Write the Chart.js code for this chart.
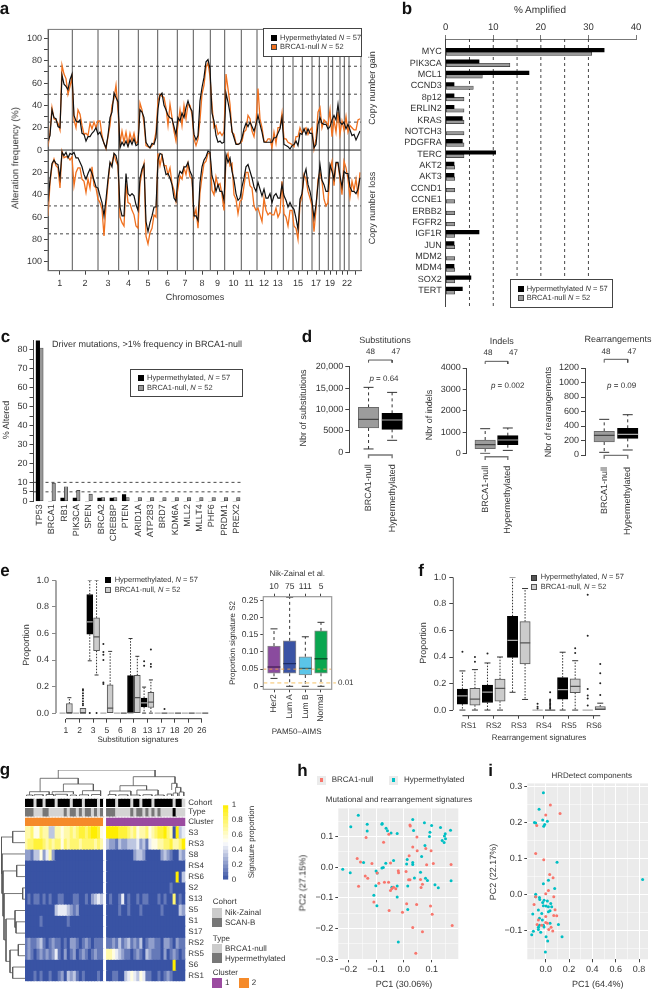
<!DOCTYPE html>
<html>
<head>
<meta charset="utf-8">
<title>BRCA1 hypermethylated vs null</title>
<script src="https://cdn.jsdelivr.net/npm/chart.js@4"></script>
<style>
html, body { margin: 0; padding: 0; background: #fff; }
#page { position: relative; width: 652px; height: 989px; overflow: hidden; font-family: "Liberation Sans", Arial, sans-serif; color: #333; text-rendering: geometricPrecision; }
canvas { position: absolute; }
.t { position: absolute; white-space: nowrap; line-height: 1; filter: grayscale(1); }
.lg { position: absolute; background: #fff; border: 1px solid #444; box-sizing: border-box; }
.sw { position: absolute; box-sizing: border-box; }
</style>
</head>
<body>
<div id="page"></div>
<script>
// ---- panel a: copy number, one value per genome bin
const binWidth = 2;
const chromEnds = [24.3, 50, 70.7, 90.3, 109.7, 129.3, 145.3, 162.3, 176.7, 193.3, 209, 223.7, 235.3, 245, 254.3, 264, 271.3, 280.3, 284.7, 292, 296.3, 301];
const chromCenters = [11.7, 37, 60, 80.5, 100, 119.5, 137, 154, 169.5, 185.5, 201, 216, 229.7, 240, 250, 259, 268, 276, 282, 288.5, 294, 299, 307];
const chromLabels = ['1', '2', '3', '4', '5', '6', '7', '8', '9', '10', '11', '12', '13', '', '15', '', '17', '', '19', '', '', '22', ''];
const gainHyper = [8,13,36,29,28,21,20,67,59,57,54,63,68, 31,26,25,27,15,14,8,12,12,15,17,20,14, 16,11,6,2,13,29,34,51,47,43, 2,7,4,8,3,9,5,10,4,5,
  36,34,29,7,4,2,6,5,11, 37,49,51,40,36,31,29,28,21,14, 29,26,33,29,38,44,38,35, 14,9,13,44,56,65,79,81,73, 33,26,13,7,8,6,7, 51,43,33,17,11,5,5,6,
  11,19,24,21,25,21,17,23, 31,23,16,7,7,7,7, 7,11,11,15,19,29, 5,4,3,1,4, 5,8,4,15,14, 19,14,19,15,15, 2,5,23, 29,24,23,23,19, 21,27, 31,27,41,25, 23,25, 19,23, 18,13,14,9,13,17];
const gainNull = [3,16,38,28,27,24,18,76,68,64,50,57,65, 27,20,36,32,22,14,15,13,24,19,25,20,26, 26,13,6,1,12,22,40,46,58,36, 6,17,7,16,5,15,8,15,6,8,
  42,36,24,4,3,2,4,7,16, 44,50,48,47,38,22,41,29,17,8, 23,36,22,40,28,41,40,32, 10,4,10,27,50,58,74,78,66, 40,20,22,14,16,13,16, 68,55,41,16,14,6,5,6,
  8,16,18,31,28,17,12,24, 55,28,20,8,7,10,10, 2,16,6,20,20,33, 10,10,7,6,5, 3,12,12,20,15, 18,20,14,18,20, 1,10,34, 38,20,27,25,22, 36,12, 27,16,34,14, 26,18, 30,16, 22,20,18,18,27,28];
const lossHyper = [46,27,12,9,12,13,25,2,5,2,7,3,4, 2,7,7,11,15,22,26,21,17,21,27,33,34, 41,47,59,44,26,11,15,3,5,13, 51,59,59,21,39,41,39,41,49,54,
  25,17,13,64,73,65,59,51,51, 9,3,4,14,22,21,25,31,43,46, 25,19,21,15,15,11,19,23, 59,59,63,29,15,9,6,1,2, 23,29,37,31,37,37,45, 4,11,7,19,27,39,45,43,
  33,25,15,13,19,25,33,37, 29,35,41,35,43,43,39, 47,41,39,43,43,31, 41,45,51,47,51, 53,61,71,44,39, 23,17,31,37,46, 61,49,31, 13,27,31,37,37, 13,19, 26,11,11,23, 33,19, 21,21, 33,37,37,39,35,25];
const lossNull = [59,30,14,8,14,16,34,1,7,6,6,9,6, 32,20,16,16,26,28,38,26,34,15,32,34,44, 47,53,77,50,30,12,12,4,10,14, 60,65,68,30,47,48,54,58,68,70,
  30,20,12,77,84,74,70,58,60, 3,14,5,14,14,22,16,30,36,46, 34,23,26,16,22,12,24,26, 60,53,70,38,24,12,10,3,3, 36,40,24,32,30,40,54, 8,3,14,12,40,44,57,46,
  44,32,20,20,32,34,50,54, 52,58,64,43,54,58,56, 58,58,52,60,56,28, 57,60,68,54,54, 68,70,80,48,42, 22,26,37,43,50, 73,53,26, 20,28,44,50,47, 18,10, 32,12,12,26, 40,10, 16,26, 42,28,36,26,40,20];

// ---- panel b
const ampGenes = ['MYC', 'PIK3CA', 'MCL1', 'CCND3', '8p12', 'ERLIN2', 'KRAS', 'NOTCH3', 'PDGFRA', 'TERC', 'AKT2', 'AKT3', 'CCND1', 'CCNE1', 'ERBB2', 'FGFR2', 'IGF1R', 'JUN', 'MDM2', 'MDM4', 'SOX2', 'TERT'];
const ampHyper = [33.3, 7, 17.5, 1.75, 1.75, 1.75, 3.5, 0, 3.5, 10.5, 1.75, 1.75, 0, 0, 0, 0, 7, 1.75, 0, 1.75, 5.3, 3.5];
const ampNull = [30.7, 13.5, 7.7, 5.8, 3.85, 3.85, 3.85, 3.85, 3.85, 3.85, 1.9, 1.9, 1.9, 1.9, 1.9, 1.9, 1.9, 1.9, 1.9, 1.9, 1.9, 1.9];

// ---- panel c
const driverGenes = ['TP53', 'BRCA1', 'RB1', 'PIK3CA', 'SPEN', 'BRCA2', 'CREBBP', 'PTEN', 'ARID1A', 'ATP2B3', 'BRD7', 'KDM6A', 'MLL2', 'MLLT4', 'PHF6', 'PRDM1', 'PREX2'];
const driverHyper = [85, 0, 1.75, 1.75, 0, 1.75, 1.75, 3.5, 0, 0, 0, 0, 0, 0, 0, 0, 0];
const driverNull = [81, 9.6, 7.7, 5.8, 3.85, 1.9, 1.9, 1.9, 1.9, 1.9, 1.9, 1.9, 1.9, 1.9, 1.9, 1.9, 1.9];

// ---- box stats are [low whisker, q1, median, q3, high whisker]
const groupNames = ['BRCA1-null', 'Hypermethylated'];
const subsBoxes = [[780, 5680, 7700, 10500, 15175], [2800, 5370, 7550, 9100, 14000]];
const indelBoxes = [[15, 233, 420, 638, 1167], [155, 420, 640, 840, 1200]];
const rearrBoxes = [[37, 179, 271, 326, 492], [69, 230, 285, 368, 556]];

// ---- panel e
const subSignatures = ['1', '2', '3', '5', '6', '8', '13', '17', '18', '20', '26'];
const subHyper = [[0,0,0,0,0], [0,0,0,0,0], [.394,.594,.688,.894,1], [0,0,0,0,0], [0,0,0,0,0], [0,0,0,.282,.562], [0,.047,.077,.114,.196], [0,0,0,0,0], [0,0,0,0,0], [0,0,0,0,0], [0,0,0,0,0]];
const subNull = [[0,0,0,.072,.116], [0,0,0,.035,.035], [.287,.47,.574,.718,1], [0,0,.037,.213,.465], [0,0,0,0,0], [0,0,.116,.285,.428], [0,.042,.082,.156,.25], [0,0,0,0,0], [0,0,0,0,0], [0,0,0,0,0], [0,0,0,0,0]];
const subHyperOut = [[], [], [0], [.52,.46,.44,.40,.23,.22], [], [], [.39,.356], [], [], [], []];
const subNullOut = [[], [.18,.17,.15,.13,.11,.09,.07,.06], [0], [], [], [], [.48,.37,.35], [.03], [], [], []];
const pamNames = ['Her2', 'Lum A', 'Lum B', 'Normal'];
const pamCounts = ['10', '75', '111', '5'];
const pamBoxes = [[.023,.038,.056,.117,.167], [0,.038,.066,.132,.259], [0,.033,.052,.086,.144], [0,.038,.08,.161,.186]];
const pamColors = ['#8a4b9e', '#3a53a4', '#5bc5e8', '#0aa650'];
const pamDarkColors = ['#4f2560', '#1c2c66', '#1f5f78', '#05562a'];

// ---- panel f
const rearrSignatures = ['RS1', 'RS2', 'RS3', 'RS4', 'RS5', 'RS6'];
const rsHyper = [[0,.045,.107,.159,.295], [0,.057,.136,.188,.355], [.134,.397,.526,.707,1], [0,0,0,0,0], [0,.082,.154,.245,.436], [0,0,0,0,0]];
const rsNull = [[0,.037,.082,.164,.305], [0,.067,.163,.233,.40], [.08,.347,.506,.667,.916], [0,0,0,0,0], [0,.131,.178,.235,.372], [0,0,.007,.027,.052]];
const rsHyperOut = [[.44], [.426], [], [.047,.025,.012], [], [.87,.56,.158,.11,.087,.035]];
const rsNullOut = [[.40,.365], [], [], [.134,.08,.07,.06,.05,.04,.03,.02,.01], [.466,.43], [.347,.277,.203,.114]];

// ---- panel g, one digit per column (0 = 0.0, 9 = 1.0), blank column between clusters
const heatRowNames = ['S3', 'RS3', 'S8', 'RS4', 'RS6', 'S2', 'S13', 'S5', 'S1', 'S17', 'RS2', 'RS5', 'S6', 'RS1'];
const heatRows = [
  '66755766336656676788789985 99998887675667567889760934',
  '67788876767757677767777676 32213223334231455667786679',
  '22133524620000000000000000 00000000023320000023210032',
  '00000000000000000000000000 00000000000000000000000000',
  '00000000000000000000000000 00000000000000000000000903',
  '00000000000000000000000000 00000000000000000000010000',
  '01011010100110001100102343 01001401001011000101007010',
  '00000000003444321200000000 00001001000100000010000032',
  '00000100000000100000000000 00000000000000000000000000',
  '00000000000000000000000000 00000000000000000000000000',
  '12112310121101022101210111 11213123121301221102210211',
  '12101212124102012012101211 66543211012103211102012101',
  '00000000000000000000000000 00000000000000000000009000',
  '00010100100120323101000010 00110034543541100101210000'
];
const cohortRow = '11101101110111101110111101 11101111011011101111110110';
const typeRow = '11100011000001011010110101 11100000101101010100002000';
const clusterRow = '22222222222222222222222222 11111111111111111111111111';
const colorBarSteps = [0, .05, .1, .15, .2, .25, .3, .35, .4, .45, .5, .55, .6, .65, .7, .75, .8, .85, .9, .95];
// dendrograms: [posA, heightA, posB, heightB, merge height]
const topTree = [[5,4.3,17.6,12,17.7], [12.7,4.3,22.6,5.3,12], [31.4,5,40.2,6,10.3], [35.8,10.3,49.6,12.7,19.3], [48.5,6,50.2,8.6,12.7], [11,17.7,43,19.3,26],
  [1.5,1,8,1.5,4.3], [9,1,16,2,4.3], [19,1.2,25,1.5,5.3], [28,1.5,35,1,5], [37,1,44,1,6], [49.8,3,51.5,4,8.6],
  [0.5,0,2.5,0,1], [3,0,6,0,1.3], [7,0,9.5,0,1.5], [10,0,14,0,1.7], [15,0,17,0,1], [18,0,21,0,1.2], [22,0,25,0,1.5], [27.5,0,30,0,1.5], [31,0,34,0,1.2], [35,0,38,0,1], [39,0,42,0,1.3], [43,0,46,0,1], [47,0,48.5,0,2], [49,0,50.5,0,3], [51,0,52.5,0,4]];
const leftTree = [[0,0,1,0,12.3], [3,0,4,0,8.3], [5,0,6,0,2.3], [8,0,9,0,9], [7,0,8.5,9,10], [10,0,11,0,6.7], [12,0,13,0,12.3], [10.5,6.7,12.5,12.3,15], [7.75,10,11.5,15,19], [5.5,2.3,9.6,19,21], [3.5,8.3,7.5,21,22], [2,0,5.5,22,23], [0.5,12.3,3.75,23,24]];

// ---- panel h, [PC1, PC2]
const pcaNull = [[-.168,.029],[-.156,.017],[-.115,.012],[-.139,-.028],[-.130,-.036],[-.163,-.062],[-.090,-.052],[-.096,-.019],[-.073,.082],[-.054,.108],[-.136,.097],[.022,.138],[.023,.135],[.047,.099],[.032,.066],[.048,.054],[.079,.061],[.098,.054],[.082,.008],[.106,.012],[.170,.009],[.019,.038],[-.048,.014],[-.020,-.011],[-.019,-.018],[.008,-.014],[.017,-.041],[.022,-.041],[.060,-.040],[-.070,-.049],[-.055,-.049],[-.048,-.076],[-.043,-.069],[-.037,-.065],[-.029,-.070],[-.108,-.113],[-.053,-.141],[-.005,-.147],[.010,-.119],[.046,-.121],[.096,-.126],[.102,-.153],[.032,-.196],[.067,-.210],[.174,-.190],[.043,-.280],[.067,-.055],[.062,-.066]];
const pcaHyper = [[-.164,.170],[-.191,.132],[-.132,.140],[-.132,.118],[-.078,.143],[-.079,.140],[-.064,.127],[-.059,.119],[-.046,.112],[-.024,.110],[.032,.156],[.035,.120],[.074,.145],[.100,.136],[.132,.130],[.094,.114],[.092,.100],[.149,.109],[.146,.102],[.138,.087],[.145,.081],[.150,.093],[.168,.121],[.076,.071],[.064,.035],[-.220,-.006],[-.193,-.018],[-.145,.016],[-.065,.013],[-.074,-.001],[-.079,-.002],[-.037,.022],[.012,.025],[.010,.011],[.032,.016],[.032,.009],[-.100,-.012],[-.096,-.019],[-.101,-.060],[-.108,-.091],[-.097,-.125],[-.024,-.061],[-.043,-.065],[-.024,-.097],[.014,-.061],[.038,-.035],[.060,-.016],[.078,-.036],[.085,-.043],[.112,-.057],[.124,-.067],[.170,-.044],[.014,-.138],[-.020,-.244]];

// ---- panel i, [PC1, PC2]
const hrdNull = [[.04,.249],[.123,.225],[0,.221],[-.077,.192],[-.086,.114],[-.017,.097],[.034,.056],[.063,.047],[.023,.011],[0,.002],[-.086,-.006],[-.1,-.028],[.069,-.006],[.08,-.042],[.069,-.058],[.094,-.059],[0,-.061],[-.063,-.071],[-.074,-.083],[-.034,-.085],[0,-.078],[.014,-.08],[.046,-.091],[.06,-.101],[.026,-.097]];
const hrdHyper = [[-.02,.283],[-.057,.237],[-.026,.207],[.014,.204],[-.097,.2],[-.086,.199],[-.009,.195],[-.017,.19],[.097,.09],[.023,.04],[-.02,.03],[.077,.017],[-.086,.001],[-.054,-.008],[-.051,-.014],[-.086,-.006],[-.014,-.016],[-.026,-.022],[.014,-.018],[-.02,-.031],[.003,-.032],[.023,-.034],[.051,-.034],[.043,-.025],[.023,-.048],[-.063,-.043],[-.034,-.053],[-.111,-.054],[-.054,-.066],[-.029,-.071],[.037,-.045],[-.02,-.085],[-.054,-.085],[-.014,-.09],[-.063,-.097],[.109,-.083],[-.106,-.102],[-.12,-.112],[-.043,-.105],[.003,-.117],[.017,-.129],[.14,-.117],[-.003,-.16],[.831,.042],[-.063,-.091],[.037,-.08]];

const RED = '#f8766d', TEAL = '#00bfc4', ORANGE = '#f0701e';
const GAP = { x: null, y: null };
const page = document.getElementById('page');

Chart.defaults.font.family = '"Liberation Sans", Arial, sans-serif';
Chart.defaults.font.size = 9;
Chart.defaults.color = '#333';
Chart.defaults.animation = false;
Chart.defaults.responsive = false;
Chart.defaults.events = [];
Chart.defaults.plugins.legend.display = false;
Chart.defaults.plugins.tooltip.enabled = false;

// plot background and frame, used by a few panels
Chart.register({
  id: 'panel',
  beforeUpdate(chart) {
    chart.ctx.textRendering = 'geometricPrecision';
  },
  beforeDraw(chart, args, opts) {
    if (!opts.bg) return;
    const a = chart.chartArea;
    chart.ctx.fillStyle = opts.bg;
    chart.ctx.fillRect(a.left, a.top, a.right - a.left, a.bottom - a.top);
  },
  afterDraw(chart, args, opts) {
    if (!opts.frame) return;
    const a = chart.chartArea;
    chart.ctx.strokeStyle = opts.frame;
    chart.ctx.lineWidth = opts.frameWidth || 1;
    chart.ctx.strokeRect(a.left, a.top, a.right - a.left, a.bottom - a.top);
  }
});

function text(str, x, y, size, opt) {
  opt = opt || {};
  const el = document.createElement('div');
  el.className = 't';
  el.innerHTML = str;
  el.style.left = x + 'px';
  el.style.top = y + 'px';
  el.style.fontSize = size + 'px';
  if (opt.bold) el.style.fontWeight = 'bold';
  if (opt.color) el.style.color = opt.color;
  const dx = opt.left ? '0' : '-50%';
  el.style.transform = 'translate(' + dx + ',-50%)' + (opt.rot ? ' rotate(-90deg)' : '');
  page.appendChild(el);
}

function swatch(x0, y0, x1, y1, color, border) {
  const el = document.createElement('div');
  el.className = 'sw';
  el.style.cssText = 'left:' + x0 + 'px;top:' + y0 + 'px;width:' + (x1 - x0) + 'px;height:' + (y1 - y0) + 'px;background:' + color + (border ? ';border:1px solid ' + border : '');
  page.appendChild(el);
}

function legendBox(x0, y0, x1, y1) {
  const el = document.createElement('div');
  el.className = 'lg';
  el.style.cssText = 'left:' + x0 + 'px;top:' + y0 + 'px;width:' + (x1 - x0) + 'px;height:' + (y1 - y0) + 'px';
  page.appendChild(el);
}

// puts a chart so its plot area lands on rect, with the given margins for axes
function panel(rect, m, config) {
  const left = Math.floor(rect.l - m.left), top = Math.floor(rect.t - m.top);
  const W = Math.ceil(rect.r + m.right) - left, H = Math.ceil(rect.b + m.bottom) - top;
  const marg = { left: rect.l - left, top: rect.t - top, right: left + W - rect.r, bottom: top + H - rect.b };
  const pad = Object.assign({}, marg);
  const scales = config.options.scales;
  Object.keys(scales).forEach(id => {
    const s = scales[id];
    if (s.display === false) return;
    const pos = s.position || (id[0] === 'x' ? 'bottom' : 'left');
    s.afterFit = sc => { if (sc.isHorizontal()) sc.height = marg[pos]; else sc.width = marg[pos]; };
    pad[pos] = 0;
  });
  config.options.layout = { padding: pad };
  const cv = document.createElement('canvas');
  cv.width = W;
  cv.height = H;
  cv.style.left = left + 'px';
  cv.style.top = top + 'px';
  page.appendChild(cv);
  return new Chart(cv, config);
}

function axis(pos, min, max, at, label, more) {
  more = more || {};
  const s = {
    type: 'linear', position: pos, min: min, max: max, offset: false,
    afterBuildTicks: sc => { sc.ticks = at.map(value => ({ value })); },
    grid: Object.assign({ offset: false, drawOnChartArea: false, drawTicks: true, tickLength: 4, color: '#444', tickColor: '#444' }, more.grid),
    border: Object.assign({ color: '#444', width: 1 }, more.border),
    ticks: Object.assign({ callback: label, autoSkip: false, maxRotation: 0, minRotation: 0, color: '#333', font: { size: 9 }, padding: 2 }, more.ticks)
  };
  if (more.reverse) s.reverse = true;
  if (more.axis) s.axis = more.axis;
  return s;
}

function line(points, color, width, dash, more) {
  return Object.assign({ type: 'scatter', showLine: true, data: points, borderColor: color, borderWidth: width, borderDash: dash || [], pointRadius: 0, fill: false, tension: 0 }, more);
}

function segments(list) {
  const out = [];
  list.forEach(s => { out.push(s[0], s[1], GAP); });
  return out;
}

function boxSets(xs, stats, outs, st) {
  const whisk = [], caps = [], meds = [], bars = [], dots = [];
  stats.forEach((s, i) => {
    const x = xs[i];
    meds.push({ x, y: s[2] });
    if (s[3] > s[1]) bars.push({ x, y: [s[1], s[3]] });
    if (s[4] > s[3]) { whisk.push({ x, y: s[3] }, { x, y: s[4] }, GAP); caps.push({ x, y: s[4] }); }
    if (s[0] < s[1]) { whisk.push({ x, y: s[1] }, { x, y: s[0] }, GAP); caps.push({ x, y: s[0] }); }
    if (outs) outs[i].forEach(v => dots.push({ x, y: v }));
  });
  const tickPoint = (data, r, color, w, order) => ({ type: 'scatter', data, pointStyle: 'line', pointRadius: r, pointBorderColor: color, pointBorderWidth: w, pointBackgroundColor: color, order });
  return [
    line(whisk, st.whisker, 1, st.dash, { order: 5 }),
    tickPoint(caps, st.cap, st.whisker, 1, 4),
    { type: 'bar', data: bars, backgroundColor: st.fill, borderColor: st.stroke, borderWidth: 1, borderSkipped: false, barThickness: st.width, grouped: false, order: 3 },
    tickPoint(meds, st.width / 2, st.median, st.medianWidth || 1.2, 2),
    { type: 'scatter', data: dots, pointRadius: 1, pointBackgroundColor: '#222', pointBorderWidth: 0, order: 1 }
  ];
}

function tree(list, flip) {
  const out = [];
  const p = (pos, h) => flip ? { x: h, y: pos } : { x: pos, y: h };
  list.forEach(n => { out.push(p(n[0], n[1]), p(n[0], n[4]), p(n[2], n[4]), p(n[2], n[3]), GAP); });
  return out;
}

function pairs(list) { return list.map(p => ({ x: p[0], y: p[1] })); }

const minus = v => String(v).replace('-', '\u2212');

// ---------------- a
const aBins = gainHyper.map((v, i) => i * binWidth);
const aSeries = arr => arr.map((v, i) => ({ x: aBins[i], y: v }));
const aSeriesNeg = arr => arr.map((v, i) => ({ x: aBins[i], y: -v }));
const aY = [-100, -90, -80, -70, -60, -50, -40, -30, -20, -10, 0, 10, 20, 30, 40, 50, 60, 70, 80, 90, 100];
panel({ l: 48, t: 28, r: 361, b: 270.7 }, { left: 40, right: 6, top: 6, bottom: 18 }, {
  type: 'scatter',
  data: { datasets: [
    line(segments(chromEnds.map(c => [{ x: c, y: -108 }, { x: c, y: 108 }])), '#555', 1, [], { order: 9 }),
    line(segments([25, 50, 75, -25, -50, -75].map(v => [{ x: 0, y: v }, { x: 313, y: v }])), '#333', 0.9, [3, 3], { order: 8 }),
    line(aSeries(gainNull), ORANGE, 1.3, [], { order: 5 }),
    line(aSeriesNeg(lossNull), ORANGE, 1.3, [], { order: 5 }),
    line(aSeries(gainHyper), '#111', 1.2, [], { order: 4 }),
    line(aSeriesNeg(lossHyper), '#111', 1.2, [], { order: 4 }),
    line([{ x: 0, y: 0 }, { x: 313, y: 0 }], '#222', 1, [], { order: 3 })
  ] },
  options: {
    plugins: { panel: { frame: '#777' } },
    scales: {
      x: axis('bottom', 0, 313, chromCenters, v => chromLabels[chromCenters.indexOf(v)], { ticks: { padding: 3 } }),
      y: axis('left', -108, 108, aY, v => (v % 20 === 0 ? Math.abs(v) : ''), {})
    }
  }
});
legendBox(263, 28, 362, 56.5);
swatch(270.7, 34.5, 277, 40.5, '#000');
swatch(270.7, 44, 277, 50, ORANGE, '#444');
text('Hypermethylated <i>N</i> = 57', 280, 37.5, 7.5, { left: true });
text('BRCA1-null <i>N</i> = 52', 280, 47, 7.5, { left: true });
text('a', 4.5, 8, 17, { bold: true, color: '#111' });
text('Alteration frequency (%)', 15.5, 158, 9.5, { rot: true });
text('Chromosomes', 195, 297, 9);
text('Copy number gain', 371.5, 88, 9, { rot: true });
text('Copy number loss', 371.5, 208, 9, { rot: true });

// ---------------- b
const bRows = ampGenes.map((g, i) => i);
panel({ l: 445.7, t: 39, r: 636, b: 310 }, { left: 60, right: 8, top: 18, bottom: 6 }, {
  type: 'scatter',
  data: { datasets: [
    line(segments([5, 10, 15, 20, 25, 30].map(v => [{ x: v, y: -1.13 }, { x: v, y: 22.4 }])), '#333', 0.9, [3, 3], { order: 9 }),
    { type: 'bar', indexAxis: 'y', data: ampHyper.map((v, i) => ({ x: v, y: bRows[i] })), backgroundColor: '#000', barThickness: 3.5, order: 2 },
    { type: 'bar', indexAxis: 'y', data: ampNull.map((v, i) => ({ x: v, y: bRows[i] })), backgroundColor: '#999', borderColor: '#333', borderWidth: 0.7, borderSkipped: false, barThickness: 3.5, order: 2 }
  ] },
  options: {
    scales: {
      x: axis('top', 0, 40, [0, 10, 20, 30, 40], v => v, { border: { color: '#777' }, grid: { color: '#777', tickColor: '#777' }, ticks: { font: { size: 9.5 }, padding: 2 } }),
      y: axis('left', -1.13, 22.4, bRows, v => ampGenes[v], { reverse: true, grid: { drawTicks: false }, ticks: { padding: 4 } })
    }
  }
});
legendBox(510, 279, 612.5, 307.5);
swatch(517.7, 285.7, 524, 291.7, '#000');
swatch(517.7, 295.3, 524, 301.3, '#999', '#444');
text('Hypermethylated <i>N</i> = 57', 526.7, 288.7, 7.5, { left: true });
text('BRCA1-null <i>N</i> = 52', 526.7, 298.3, 7.5, { left: true });
text('b', 407, 8, 17, { bold: true, color: '#111' });
text('% Amplified', 540, 11, 10);

// ---------------- c
const cX = driverGenes.map((g, i) => i);
panel({ l: 33.5, t: 339.8, r: 242.7, b: 501.3 }, { left: 30, right: 8, top: 6, bottom: 44 }, {
  type: 'scatter',
  data: { datasets: [
    line(segments([5, 10].map(v => [{ x: -0.5, y: v }, { x: 16.5, y: v }])), '#333', 0.9, [3, 3], { order: 9 }),
    { type: 'bar', data: driverHyper.map((v, i) => ({ x: cX[i], y: v })), backgroundColor: '#000', barThickness: 3.5, order: 2 },
    { type: 'bar', data: driverNull.map((v, i) => ({ x: cX[i], y: v })), backgroundColor: '#999', borderColor: '#333', borderWidth: 0.7, borderSkipped: false, barThickness: 3.5, order: 2 }
  ] },
  options: {
    scales: {
      x: axis('bottom', -0.5, 16.5, cX, v => driverGenes[v], { border: { display: false }, grid: { drawTicks: false }, ticks: { minRotation: 90, maxRotation: 90, padding: 3 } }),
      y: axis('left', 0, 85, [0, 5, 10, 15, 20, 25, 30, 35, 40, 45, 50, 55, 60, 65, 70, 75, 80], v => ((v % 10 === 0 || v === 5) ? v : ''), {})
    }
  }
});
legendBox(130, 369, 243, 397);
swatch(137.7, 375, 144, 381, '#000');
swatch(137.7, 385, 144, 391, '#999', '#444');
text('Hypermethylated, <i>N</i> = 57', 147, 378, 7.5, { left: true });
text('BRCA1-null, <i>N</i> = 52', 147, 387.5, 7.5, { left: true });
text('c', 5.5, 336, 17, { bold: true, color: '#111' });
text('% Altered', 6, 420, 9, { rot: true });
text('Driver mutations, &gt;1% frequency in BRCA1-null', 147, 344, 9);

// ---------------- d
const dStyles = [
  { fill: '#9c9c9c', stroke: '#6a6a6a', median: '#444', whisker: '#333', dash: [3, 3], cap: 5, width: 20.5 },
  { fill: '#000', stroke: '#000', median: '#aaa', whisker: '#333', dash: [3, 3], cap: 5, width: 20.5 }
];
function dChart(rect, xMax, yMax, ticks, boxes, top, bottom) {
  const sets = [].concat(
    boxSets([1], [boxes[0]], null, dStyles[0]),
    boxSets([2], [boxes[1]], null, dStyles[1]),
    [line([{ x: 1, y: top[0] }, { x: 1, y: top[1] }, { x: 2, y: top[1] }, { x: 2, y: top[0] }], '#444', 0.9, [], { clip: false }),
     line([{ x: 1, y: bottom[0] }, { x: 1, y: bottom[1] }, { x: 2, y: bottom[1] }, { x: 2, y: bottom[0] }], '#777', 1.4, [], { clip: false })]
  );
  panel(rect, { left: 46, right: 6, top: 14, bottom: 82 }, {
    type: 'scatter',
    data: { datasets: sets },
    options: {
      scales: {
        x: axis('bottom', 0.183, xMax, [1, 2], v => groupNames[v - 1], { border: { display: false }, grid: { drawTicks: false }, ticks: { minRotation: 90, maxRotation: 90, padding: 12 } }),
        y: axis('left', 0, yMax, ticks, v => (v >= 10000 ? String(v).slice(0, -3) + ',000' : (v === 5000 ? '5000' : v)), {})
      }
    }
  });
}
dChart({ l: 349.3, t: 366.7, r: 415, b: 452.3 }, 2.74, 20000, [0, 5000, 10000, 15000, 20000], subsBoxes, [20934, 21556], [-1400, -620]);
dChart({ l: 466.7, t: 368, r: 530, b: 453.7 }, 2.74, 4000, [0, 1000, 2000, 3000, 4000], indelBoxes, [4187, 4311], [-296, -140]);
dChart({ l: 585, t: 368, r: 648, b: 455 }, 2.63, 1200, [0, 200, 400, 600, 800, 1000, 1200], rearrBoxes, [1274, 1320], [-50, -5]);
text('d', 307, 336, 17, { bold: true, color: '#111' });
text('Substitutions', 385, 339.5, 9);
text('48', 370.5, 352, 8); text('47', 396, 352, 8);
text('<i>p</i> = 0.64', 384, 379, 8);
text('Nbr of substitutions', 303, 408, 9, { rot: true });
text('Indels', 501.7, 341, 9);
text('48', 488, 353, 8); text('47', 513.5, 353, 8);
text('<i>p</i> = 0.002', 507.7, 386, 8);
text('Nbr of indels', 429, 415, 9, { rot: true });
text('Rearrangements', 618, 338.5, 9);
text('48', 606, 352, 8); text('47', 632, 352, 8);
text('<i>p</i> = 0.09', 621.7, 386, 8);
text('Nbr of rearrangements', 548, 412, 9, { rot: true });

// ---------------- e (left)
const blackStyle = w => ({ fill: '#000', stroke: '#000', median: '#aaa', whisker: '#333', dash: [1.5, 1.5], cap: 2, width: w });
const lightStyle = w => ({ fill: '#ccc', stroke: '#555', median: '#555', whisker: '#333', dash: [1.5, 1.5], cap: 2, width: w });
const eX = subSignatures.map((s, i) => i);
panel({ l: 56, t: 578.3, r: 210, b: 718.7 }, { left: 28, right: 6, top: 6, bottom: 14 }, {
  type: 'scatter',
  data: { datasets: [].concat(
    boxSets(eX.map(i => i - 0.25), subHyper, subHyperOut, blackStyle(6)),
    boxSets(eX.map(i => i + 0.25), subNull, subNullOut, lightStyle(6)),
    [line([{ x: -0.735, y: 0 }, { x: -0.735, y: 1 }], '#888', 1.5, [], { clip: false }),
     line([{ x: 0, y: -0.0423 }, { x: 10, y: -0.0423 }], '#333', 1, [], { clip: false })]
  ) },
  options: {
    scales: {
      x: axis('bottom', -0.735, 10.6, eX, v => subSignatures[v], { border: { display: false }, ticks: { font: { size: 8.5 }, padding: 3 } }),
      y: axis('left', -0.0423, 1, [0, .2, .4, .6, .8, 1], v => v.toFixed(1), { border: { display: false }, grid: { color: '#888', tickColor: '#888' }, ticks: { font: { size: 9 }, padding: 3 } })
    }
  }
});
swatch(105, 577, 111, 583, '#000');
swatch(105, 586.5, 111, 592.5, '#ccc', '#555');
text('Hypermethylated, <i>N</i> = 57', 114.7, 580, 7.5, { left: true });
text('BRCA1-null, <i>N</i> = 52', 114.7, 589.5, 7.5, { left: true });
text('e', 5, 570, 17, { bold: true, color: '#111' });
text('Proportion', 26, 645, 9, { rot: true });
text('Substitution signatures', 138, 740, 8);

// ---------------- e (right)
const pamX = pamNames.map((n, i) => i);
panel({ l: 263.3, t: 596.7, r: 331.7, b: 689.3 }, { left: 36, right: 8, top: 20, bottom: 36 }, {
  type: 'scatter',
  data: { datasets: [].concat(
    boxSets(pamX, pamBoxes, null, { fill: pamColors, stroke: '#888', median: pamDarkColors, whisker: '#333', dash: [3, 3], cap: 3.5, width: 12.7, medianWidth: 1.4 }),
    [line([{ x: -0.683, y: 0.05 }, { x: 3.683, y: 0.05 }], '#f0a040', 0.9, [3, 3], { order: 0 }),
     line([{ x: -0.683, y: 0.01 }, { x: 3.95, y: 0.01 }], '#f9dca8', 1.8, [4, 3], { order: 0, clip: false })]
  ) },
  options: {
    plugins: { panel: { frame: '#999', frameWidth: 1.2 } },
    scales: {
      x: axis('bottom', -0.683, 3.683, pamX, v => pamNames[v], { border: { display: false }, ticks: { minRotation: 90, maxRotation: 90, font: { size: 8.5 }, padding: 2 }, grid: { tickLength: 3 } }),
      xTop: axis('top', -0.683, 3.683, pamX, v => pamCounts[v], { axis: 'x', border: { display: false }, ticks: { font: { size: 8.5 }, padding: 2 }, grid: { tickLength: 3 } }),
      y: axis('left', -0.0087, 0.2605, [0, .05, .1, .15, .2, .25], v => (v === 0 ? '0' : v.toFixed(2)), { border: { display: false }, ticks: { font: { size: 8.5 }, padding: 2 }, grid: { tickLength: 3 } })
    }
  }
});
text('Nik-Zainal et al.', 297.3, 573.7, 8);
text('PAM50\u2013AIMS', 296.7, 732, 8);
text('Proportion signature S2', 232.7, 643, 8, { rot: true });
text('0.01', 338, 683, 8, { left: true });

// ---------------- f
const fX = rearrSignatures.map((s, i) => i);
panel({ l: 453.3, t: 575.7, r: 607, b: 715.7 }, { left: 24, right: 8, top: 6, bottom: 16 }, {
  type: 'scatter',
  data: { datasets: [].concat(
    boxSets(fX.map(i => i - 0.25), rsHyper, rsHyperOut, Object.assign(blackStyle(10.3), { cap: 3 })),
    boxSets(fX.map(i => i + 0.25), rsNull, rsNullOut, Object.assign(lightStyle(10.3), { cap: 3 })),
    [line([{ x: -0.614, y: 0 }, { x: -0.614, y: 1 }], '#555', 1, [], { clip: false }),
     line([{ x: -0.25, y: -0.0424 }, { x: 5.25, y: -0.0424 }], '#333', 1, [], { clip: false })]
  ) },
  options: {
    scales: {
      x: axis('bottom', -0.614, 5.52, fX, v => rearrSignatures[v], { border: { display: false }, ticks: { font: { size: 8 }, padding: 2 }, grid: { tickLength: 3 } }),
      y: axis('left', -0.0424, 1, [0, .2, .4, .6, .8, 1], v => v.toFixed(1), { border: { display: false }, ticks: { font: { size: 9 }, padding: 3 } })
    }
  }
});
swatch(530.7, 574.5, 536.7, 580.5, '#555', '#333');
swatch(530.7, 583.8, 536.7, 589.8, '#ccc', '#555');
text('Hypermethylated, <i>N</i> = 57', 540.7, 577.3, 7.5, { left: true });
text('BRCA1-null, <i>N</i> = 52', 540.7, 586.7, 7.5, { left: true });
text('f', 421, 570, 17, { bold: true, color: '#111' });
text('Proportion', 422.7, 642.7, 9, { rot: true });
text('Rearrangement signatures', 539, 737.5, 8);

// ---------------- g
const heatStops = [[57, 83, 164], [255, 255, 255], [255, 238, 0]];
function heatColor(v) {
  const a = v < 0.5 ? heatStops[0] : heatStops[1];
  const b = v < 0.5 ? heatStops[1] : heatStops[2];
  const f = v < 0.5 ? v * 2 : (v - 0.5) * 2;
  return 'rgb(' + a.map((c, i) => Math.round(c + (b[i] - c) * f)).join(',') + ')';
}
const digitColor = ch => (ch === ' ' ? '#fff' : heatColor(Number(ch) / 9));
const cohortColor = ch => ({ ' ': '#fff', '1': '#000', '0': '#d8d8d8' }[ch]);
const typeColor = ch => ({ ' ': '#fff', '2': '#000', '1': '#777', '0': '#d4d4d4' }[ch]);
const clusterColor = ch => ({ ' ': '#fff', '1': '#9b4ba0', '2': '#f58a2a' }[ch]);
const heatCols = heatRows[0].split('').map((c, i) => i + 0.5);
const gStrips = [
  { h: 7.7, row: cohortRow, color: cohortColor, name: 'Cohort' },
  { h: 2.3 },
  { h: 7.4, row: typeRow, color: typeColor, name: 'Type' },
  { h: 2.6 },
  { h: 7.3, row: clusterRow, color: clusterColor, name: 'Cluster' },
  { h: 1.4 }
].concat(heatRows.map((r, i) => ({ h: 11.3, row: r, color: digitColor, name: heatRowNames[i] })));
let gTotal = 0;
const gTicks = [], gNames = [];
gStrips.forEach(s => {
  if (s.name) { gTicks.push(gTotal + s.h / 2); gNames.push(s.name); }
  gTotal += s.h;
});
panel({ l: 25, t: 797.3, r: 185.3, b: 984.4 }, { left: 0, right: 28, top: 6, bottom: 4 }, {
  type: 'bar',
  data: { datasets: gStrips.map(s => ({
    type: 'bar',
    data: heatCols.map(x => ({ x, y: s.h })),
    backgroundColor: s.row ? s.row.split('').map(s.color) : 'rgba(0,0,0,0)',
    stack: 'g', barPercentage: 1, categoryPercentage: 1, borderWidth: 0, inflateAmount: s.row ? 0.6 : 0
  })) },
  options: {
    scales: {
      x: { type: 'linear', display: false, stacked: true, min: 0, max: heatCols.length, offset: false, grid: { offset: false } },
      y: Object.assign(axis('right', 0, gTotal, gTicks, v => gNames[gTicks.indexOf(v)], { reverse: true, border: { display: false }, grid: { drawTicks: false }, ticks: { font: { size: 8 }, padding: 3 } }), { stacked: true })
    }
  }
});
panel({ l: 25, t: 770, r: 185.3, b: 796 }, { left: 0, right: 0, top: 0, bottom: 0 }, {
  type: 'scatter',
  data: { datasets: [line(tree(topTree, false), '#555', 0.8, [], { clip: false })] },
  options: { scales: {
    x: { type: 'linear', display: false, min: 0, max: 53 },
    y: { type: 'linear', display: false, min: 0, max: 26 }
  } }
});
panel({ l: 1, t: 825.7, r: 25, b: 984 }, { left: 0, right: 0, top: 0, bottom: 0 }, {
  type: 'scatter',
  data: { datasets: [line(tree(leftTree, true), '#555', 0.8, [], { clip: false })] },
  options: { scales: {
    x: { type: 'linear', display: false, min: 0, max: 24, reverse: true },
    y: { type: 'linear', display: false, min: -0.5, max: 13.5, reverse: true }
  } }
});
panel({ l: 223, t: 803.3, r: 228.3, b: 881.3 }, { left: 0, right: 14, top: 6, bottom: 6 }, {
  type: 'bar',
  data: { datasets: colorBarSteps.map(v => ({ type: 'bar', data: [{ x: 0.5, y: 0.05 }], backgroundColor: heatColor(v + 0.025), stack: 'c', barThickness: 5.3, borderWidth: 0 })) },
  options: { scales: {
    x: { type: 'linear', display: false, stacked: true, min: 0, max: 1, offset: false, grid: { offset: false } },
    y: Object.assign(axis('right', 0, 1, [0, .2, .4, .6, .8, 1], v => ((v === 0 || v === 1) ? String(v) : v.toFixed(1)), { border: { display: false }, grid: { drawTicks: false }, ticks: { font: { size: 8 }, padding: 3.4 } }), { stacked: true })
  } }
});
text('g', 5, 769, 17, { bold: true, color: '#111' });
text('Signature proportion', 251.7, 841.7, 8, { rot: true });
text('Cohort', 212.7, 902.3, 8, { left: true });
swatch(212.3, 907.7, 222.3, 917.7, '#ccc');
swatch(212.3, 917.7, 222.3, 927, '#777');
text('Nik-Zainal', 225, 912.7, 8, { left: true });
text('SCAN-B', 225, 922.7, 8, { left: true });
text('Type', 212.7, 939, 8, { left: true });
swatch(212.3, 944, 222.3, 953.3, '#ccc');
swatch(212.3, 953.3, 222.3, 962.7, '#777');
text('BRCA1-null', 225, 949, 8, { left: true });
text('Hypermethylated', 225, 958.7, 8, { left: true });
text('Cluster', 212.7, 973.3, 8, { left: true });
swatch(212.3, 978.3, 222.3, 987.7, '#9b4ba0');
text('1', 225, 983, 8, { left: true });
swatch(239.3, 978.3, 248.7, 987.7, '#f58a2a');
text('2', 251.7, 983, 8, { left: true });

// ---------------- h, i
function ggAxis(pos, min, max, major, minor) {
  const isMajor = v => major.some(m => Math.abs(m - v) < 1e-6);
  return axis(pos, min, max, major.concat(minor), v => (isMajor(v) ? minus(v.toFixed(1)) : ''), {
    border: { display: false },
    grid: {
      drawOnChartArea: true, tickLength: 3,
      color: c => '#fff',
      lineWidth: c => (c.tick && isMajor(c.tick.value) ? 1 : 0.5),
      tickColor: c => (c.tick && isMajor(c.tick.value) ? '#444' : 'rgba(0,0,0,0)')
    },
    ticks: { font: { size: 9 }, padding: 2 }
  });
}
const ggDots = (list, color) => ({ type: 'scatter', data: pairs(list), pointRadius: 1.5, pointBackgroundColor: color, pointBorderWidth: 0 });
panel({ l: 338.3, t: 807.7, r: 458.3, b: 959.3 }, { left: 32, right: 8, top: 6, bottom: 14 }, {
  type: 'scatter',
  data: { datasets: [ggDots(pcaNull, RED), ggDots(pcaHyper, TEAL)] },
  options: {
    plugins: { panel: { bg: '#ebebeb' } },
    scales: {
      x: ggAxis('bottom', -0.236, 0.196, [-0.2, -0.1, 0, 0.1], [-0.15, -0.05, 0.05, 0.15]),
      y: ggAxis('left', -0.3, 0.192, [-0.3, -0.2, -0.1, 0, 0.1], [-0.25, -0.15, -0.05, 0.05, 0.15])
    }
  }
});
panel({ l: 527.3, t: 782.7, r: 648, b: 959.3 }, { left: 28, right: 4, top: 6, bottom: 14 }, {
  type: 'scatter',
  data: { datasets: [ggDots(hrdNull, RED), ggDots(hrdHyper, TEAL)] },
  options: {
    plugins: { panel: { bg: '#ebebeb' } },
    scales: {
      x: ggAxis('bottom', -0.158, 0.877, [0, 0.2, 0.4, 0.6, 0.8], [-0.1, 0.1, 0.3, 0.5, 0.7]),
      y: ggAxis('left', -0.18, 0.309, [-0.1, 0, 0.1, 0.2, 0.3], [-0.15, -0.05, 0.05, 0.15, 0.25])
    }
  }
});
text('h', 302.5, 770, 17, { bold: true, color: '#111' });
swatch(316.7, 775.5, 326, 784.8, '#ebebeb');
swatch(319.7, 778.2, 323.2, 781.7, RED);
text('BRCA1-null', 331.7, 780, 8, { left: true });
swatch(388.7, 775.5, 398, 784.8, '#ebebeb');
swatch(391.6, 778.2, 395.1, 781.7, TEAL);
text('Hypermethylated', 404, 780, 8, { left: true });
text('Mutational and rearrangement signatures', 399, 800.3, 8);
text('PC1 (30.06%)', 404, 983.7, 9);
text('PC2 (27.15%)', 302.7, 883.3, 9, { rot: true });
text('i', 490.5, 770, 17, { bold: true, color: '#111' });
text('HRDetect components', 591.7, 776.3, 8);
text('PC1 (64.4%)', 597.7, 983.7, 9);
text('PC2 (22.17%)', 493.3, 871.7, 9, { rot: true });
</script>
</body>
</html>
